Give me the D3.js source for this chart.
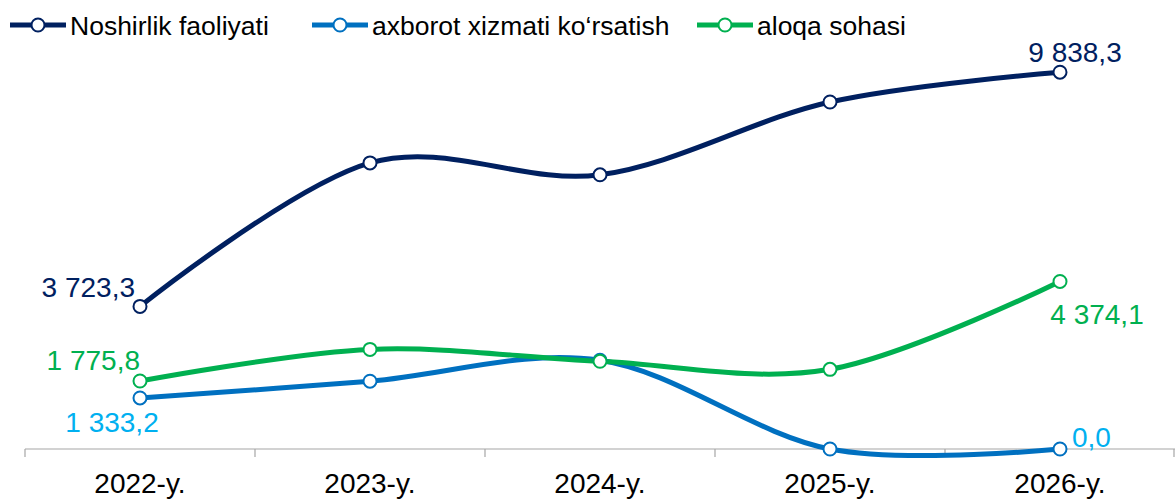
<!DOCTYPE html>
<html>
<head>
<meta charset="utf-8">
<script src="https://cdn.jsdelivr.net/npm/d3@7"></script>
<style>
  html, body { margin: 0; padding: 0; background: #fff; }
  svg { display: block; font-family: "Liberation Sans", Arial, sans-serif; }
</style>
</head>
<body>
<svg width="1175" height="500"></svg>
<script>
const years = ["2022-y.", "2023-y.", "2024-y.", "2025-y.", "2026-y."];
const noshirlik = [3723.3, 7470, 7160, 9060, 9838.3];
const axborot = [1333.2, 1770, 2316, 0, 0];
const aloqa = [1775.8, 2600, 2290, 2080, 4374.1];

const seriesNames = ["Noshirlik faoliyati", "axborot xizmati ko‘rsatish", "aloqa sohasi"];

const svg_ = d3.select('svg');

const COLORS = ["#002060", "#0070C0", "#00B050"];
const LABEL_COLORS = ["#002060", "#00B0F0", "#00B050"];

// only first and last points are labelled, offsets tuned to picture
const LABELS = [
    [{ i: 0, dx: -5, dy: -9, anchor: "end" }, { i: 4, dx: 15, dy: -10, anchor: "middle" }],
    [{ i: 0, dx: -28, dy: 34, anchor: "middle" }, { i: 4, dx: 12, dy: -2, anchor: "start" }],
    [{ i: 0, dx: 0, dy: -11, anchor: "end" }, { i: 4, dx: 37, dy: 43, anchor: "middle" }]
];

const x = d3.scaleBand().domain(years).range([25, 1175]);
const y = d3.scaleLinear().domain([0, 10000]).range([449, 66]);

const fmt = v => new Intl.NumberFormat('fr-FR', { minimumFractionDigits: 1, maximumFractionDigits: 1 })
    .format(v).replace(/\s/g, ' ');

const data = [noshirlik, axborot, aloqa].map((vals, s) => ({
    name: seriesNames[s],
    color: COLORS[s],
    labelColor: LABEL_COLORS[s],
    points: vals.map((v, i) => ({ year: years[i], value: v }))
}));

// axis
const axis = svg_.append("g").attr("transform", `translate(0,${y(0)})`);
axis.append("line")
    .attr("x1", 25).attr("x2", 1175)
    .attr("stroke", "#a6a6a6").attr("stroke-width", 1.2);
const edges = years.map(d => x(d)).concat([x.range()[1]]);
axis.selectAll(".tk")
    .data(edges)
    .join("line")
    .attr("x1", d => Math.min(d, 1174)).attr("x2", d => Math.min(d, 1174))
    .attr("y1", 0).attr("y2", 8)
    .attr("stroke", "#a6a6a6").attr("stroke-width", 1.2);
axis.selectAll(".lbl")
    .data(years)
    .join("text")
    .attr("x", d => x(d) + x.bandwidth() / 2)
    .attr("y", 44)
    .attr("text-anchor", "middle")
    .attr("font-size", 28)
    .attr("fill", "#000")
    .text(d => d);

const line = d3.line()
    .x(d => x(d.year) + x.bandwidth() / 2)
    .y(d => y(d.value))
    .curve(d3.curveCardinal.tension(0));

const g = svg_.append("g");

data.forEach(s => {
    g.append("path")
        .datum(s.points)
        .attr("d", line)
        .attr("fill", "none")
        .attr("stroke", s.color)
        .attr("stroke-width", 5)
        .attr("stroke-linejoin", "round");
});

data.forEach((s, si) => {
    g.append("g").selectAll("circle")
        .data(s.points)
        .join("circle")
        .attr("cx", d => x(d.year) + x.bandwidth() / 2)
        .attr("cy", d => y(d.value))
        .attr("r", 6.5)
        .attr("fill", "#fff")
        .attr("stroke", s.color)
        .attr("stroke-width", 2);

    g.append("g").selectAll("text")
        .data(LABELS[si])
        .join("text")
        .attr("x", d => x(years[d.i]) + x.bandwidth() / 2 + d.dx)
        .attr("y", d => y(s.points[d.i].value) + d.dy)
        .attr("text-anchor", d => d.anchor)
        .attr("font-size", 28)
        .attr("fill", s.labelColor)
        .text(d => fmt(s.points[d.i].value));
});

// legend
const legendX = [10, 312, 697];
const legend = svg_.append("g").selectAll("g")
    .data(data)
    .join("g")
    .attr("transform", (d, i) => `translate(${legendX[i]},25)`);
legend.append("line")
    .attr("x1", 0).attr("x2", 56)
    .attr("stroke", d => d.color).attr("stroke-width", 5);
legend.append("circle")
    .attr("cx", 28).attr("r", 6.5)
    .attr("fill", "#fff")
    .attr("stroke", d => d.color).attr("stroke-width", 2);
legend.append("text")
    .attr("x", 60).attr("y", 10)
    .attr("font-size", 26.5)
    .attr("fill", "#000")
    .text(d => d.name);
</script>
</body>
</html>
